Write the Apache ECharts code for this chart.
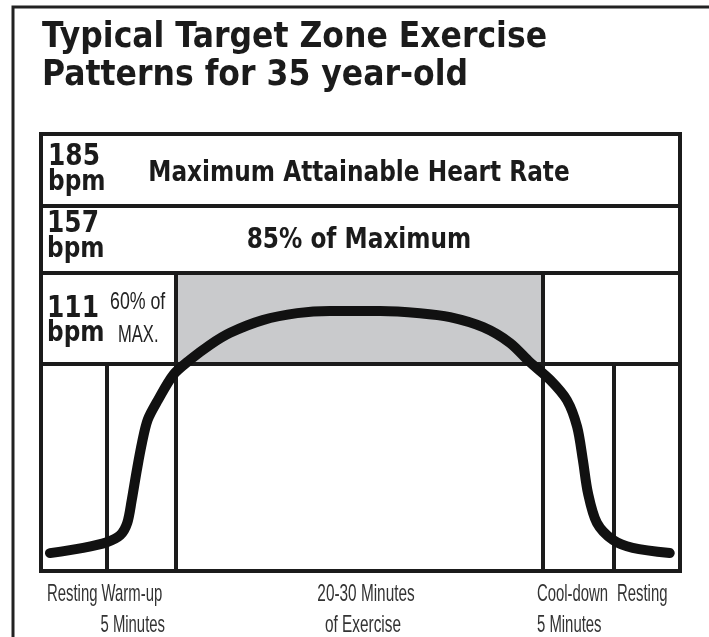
<!DOCTYPE html>
<html>
<head>
<meta charset="utf-8">
<script src="https://cdn.jsdelivr.net/npm/echarts@6/dist/echarts.min.js"></script>
<style>
  html, body { margin: 0; padding: 0; background: #fff; }
  #main { width: 709px; height: 637px; }
</style>
</head>
<body>
<div id="main"></div>
<script>
// x: time across the session (0-100), y: relative heart-rate level (0-100)
var curveX = [1.4, 6.6, 10.3, 12.4, 13.5, 14.2, 15.0, 15.8, 16.7, 18.3, 20.7, 23.3, 26.4, 29.6, 34.7, 40.1,
              45.2, 53.1, 59.3, 64.0, 69.2, 73.4, 76.5, 79.7, 82.3, 83.9, 84.8, 85.6, 87.0, 89.5, 92.6, 98.4];
var curveY = [4.1, 5.3, 6.6, 8.2, 11.0, 16.2, 23.1, 29.3, 34.6, 39.1, 44.9, 48.3, 51.7, 54.5, 57.4, 59.0,
              59.5, 59.5, 59.0, 58.1, 55.8, 52.2, 47.8, 43.7, 39.1, 33.0, 25.4, 17.8, 11.0, 7.1, 5.3, 4.1];

// horizontal band boundaries: 60% line, 85% line, max line
var bandLevels = [47.37, 68.19, 83.52];
// phase boundaries (x) and how high each boundary line reaches (y)
var phaseBounds = [10.33, 21.13, 78.56, 89.67];
var phaseTops = [47.37, 68.19, 68.19, 47.37];
// target zone (grey box)
var zoneX = [21.13, 78.56];
var zoneY = [47.37, 68.19];

var titleLines = ['Typical Target Zone Exercise', 'Patterns for 35 year-old'];
var bandNumbers = ['185', '157', '111'];
var bandNames = ['Maximum Attainable Heart Rate', '85% of Maximum'];
var phaseLabels = [['Resting Warm-up', '5 Minutes'], ['20-30 Minutes', 'of Exercise'], ['Cool-down', '5 Minutes'], ['Resting']];

var INK = '#1b1b1b';
var HEAVY = '"DejaVu Sans", sans-serif';
var LIGHT = '"Liberation Sans", Arial, sans-serif';

function txt(s, x, y, size, weight, family, align, sx, color) {
  return {
    type: 'text', x: x, y: y, scaleX: sx || 1, z: 100,
    style: {
      text: s, x: 0, y: 0,
      font: weight + ' ' + size + 'px ' + family,
      fill: color || INK,
      align: align, verticalAlign: 'middle',
      textAlign: align, textVerticalAlign: 'middle'
    }
  };
}

var myChart = echarts.init(document.getElementById('main'));

var lineSegs = [];
bandLevels.forEach(function (y) {
  lineSegs.push([{ coord: [0, y] }, { coord: [100, y] }]);
});
phaseBounds.forEach(function (x, i) {
  lineSegs.push([{ coord: [x, 0] }, { coord: [x, phaseTops[i]] }]);
});

var graphics = [
  {
    type: 'polyline', z: 100,
    shape: { points: [[13, 645], [13, 7], [715, 7]] },
    style: { stroke: '#222', lineWidth: 3, fill: null }
  },
  txt(titleLines[0], 42, 37.5, 35, 'bold', HEAVY, 'left', 0.9),
  txt(titleLines[1], 42, 76, 35, 'bold', HEAVY, 'left', 0.9),

  txt(bandNumbers[0], 48, 157, 30, 'bold', HEAVY, 'left', 0.83),
  txt('bpm', 48, 182.5, 28, 'bold', HEAVY, 'left', 0.83),
  txt(bandNumbers[1], 47, 224.5, 30, 'bold', HEAVY, 'left', 0.83),
  txt('bpm', 47, 249.5, 28, 'bold', HEAVY, 'left', 0.83),
  txt(bandNumbers[2], 47, 309.5, 30, 'bold', HEAVY, 'left', 0.83),
  txt('bpm', 47, 333.5, 28, 'bold', HEAVY, 'left', 0.83),
  txt('60% of', 110, 302, 24, 'normal', LIGHT, 'left', 0.74, '#222'),
  txt('MAX.', 118, 335.5, 23, 'normal', LIGHT, 'left', 0.72, '#222'),

  txt(bandNames[0], 359, 173.5, 28, 'bold', HEAVY, 'center', 0.83),
  txt(bandNames[1], 359, 240.5, 28, 'bold', HEAVY, 'center', 0.83),

  txt(phaseLabels[0][0], 47, 594, 24, 'normal', LIGHT, 'left', 0.62, '#333'),
  txt(phaseLabels[0][1], 165, 625, 24, 'normal', LIGHT, 'right', 0.62, '#333'),
  txt(phaseLabels[1][0], 366, 594, 24, 'normal', LIGHT, 'center', 0.64, '#333'),
  txt(phaseLabels[1][1], 363, 625, 24, 'normal', LIGHT, 'center', 0.64, '#333'),
  txt(phaseLabels[2][0], 537, 594, 24, 'normal', LIGHT, 'left', 0.62, '#333'),
  txt(phaseLabels[2][1], 537, 625, 24, 'normal', LIGHT, 'left', 0.62, '#333'),
  txt(phaseLabels[3][0], 617, 594, 24, 'normal', LIGHT, 'left', 0.62, '#333')
];

myChart.setOption({
  animation: false,
  backgroundColor: '#fff',
  grid: {
    left: 41, right: 29, top: 134, bottom: 66,
    show: true, borderColor: INK, borderWidth: 4, backgroundColor: '#fff'
  },
  xAxis: { type: 'value', min: 0, max: 100, show: false },
  yAxis: { type: 'value', min: 0, max: 100, show: false },
  graphic: graphics,
  series: [
    {
      type: 'line',
      data: curveX.map(function (x, i) { return [x, curveY[i]]; }),
      smooth: 0.3,
      showSymbol: false,
      symbol: 'none',
      lineStyle: { color: '#111', width: 10, cap: 'round' },
      z: 5,
      markArea: {
        silent: true,
        itemStyle: { color: '#c9cacc' },
        data: [[{ coord: [zoneX[0], zoneY[0]] }, { coord: [zoneX[1], zoneY[1]] }]]
      },
      markLine: {
        silent: true,
        symbol: 'none',
        label: { show: false },
        lineStyle: { color: INK, width: 4, type: 'solid' },
        data: lineSegs
      }
    }
  ]
});
</script>
</body>
</html>
